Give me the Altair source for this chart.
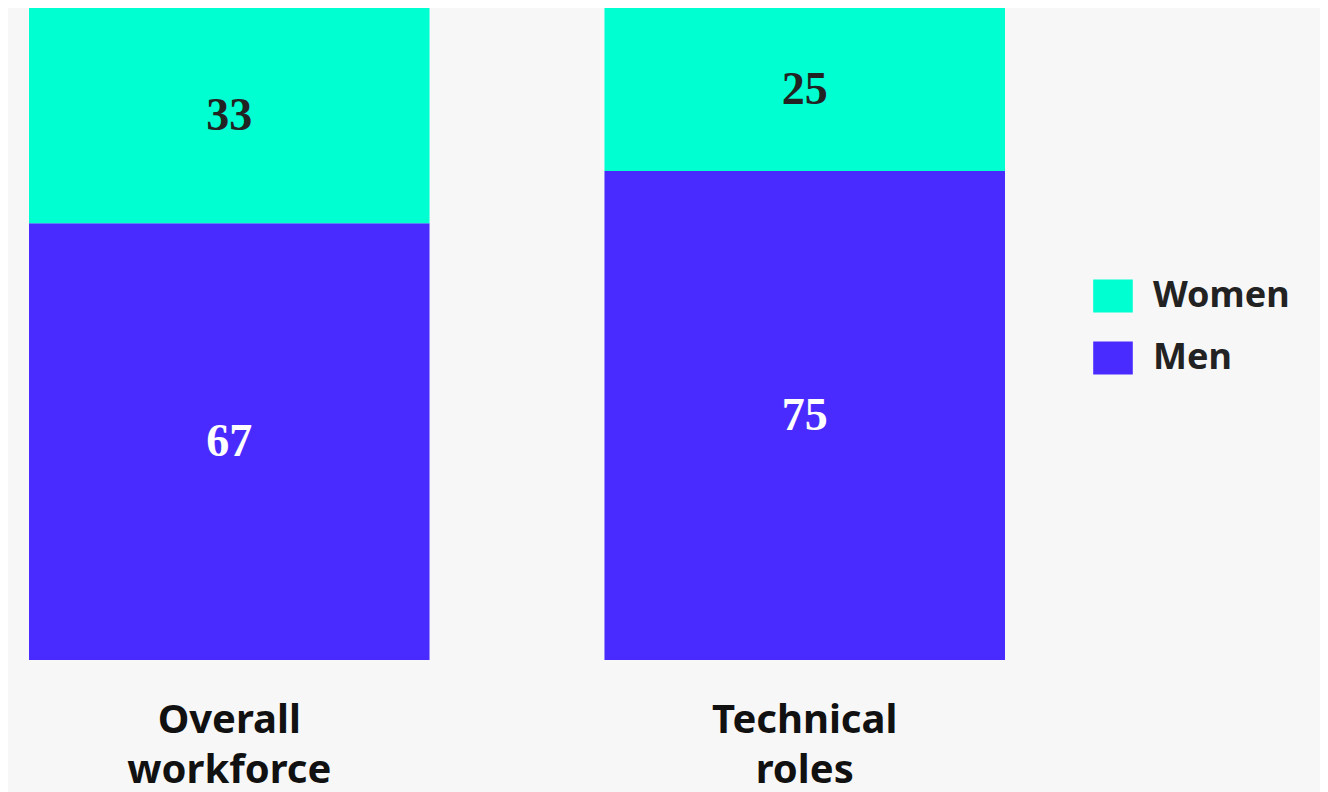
import altair as alt
import pandas as pd

categories = ["Overall workforce", "Technical roles"]
men = [67, 75]
women = [33, 25]
genders = ["Women", "Men"]
colors = ["#00FFD1", "#4A2BFF"]

rows = []
for c, m, w in zip(categories, men, women):
    rows.append({"category": c, "gender": "Men", "value": m, "order": 0})
    rows.append({"category": c, "gender": "Women", "value": w, "order": 1})
df = pd.DataFrame(rows)

base = alt.Chart(df).transform_stack(
    stack="value", groupby=["category"], sort=[alt.SortField("order")], as_=["y0", "y1"]
).transform_calculate(mid="(datum.y0 + datum.y1) / 2")

xenc = alt.X("category:N", sort=categories, title=None,
             scale=alt.Scale(paddingInner=0.304, paddingOuter=0),
             axis=alt.Axis(labelAngle=0, domain=False, ticks=False, labelFont="Noto Sans",
                           labelFontSize=40, labelFontWeight="bold", labelColor="#111111",
                           labelExpr="split(datum.label, ' ')", labelLineHeight=50,
                           labelPadding=40, labelBaseline="top", labelLimit=0))

bars = base.mark_bar().encode(
    x=xenc,
    y=alt.Y("y0:Q", scale=alt.Scale(domain=[0, 100]), axis=None),
    y2="y1:Q",
    color=alt.Color("gender:N", scale=alt.Scale(domain=genders, range=colors),
                    legend=alt.Legend(title=None, orient="none", legendX=1066, legendY=270,
                                      labelFont="Noto Sans", labelFontSize=36,
                                      labelFontWeight="bold", labelColor="#222222",
                                      symbolType="M-1.2,-1H1.2V1H-1.2Z", symbolSize=1089,
                                      symbolStrokeWidth=0, symbolOpacity=1, labelOffset=22,
                                      rowPadding=26, padding=0)),
)

texts = base.mark_text(font="Liberation Serif", fontSize=46, fontWeight="bold",
                       baseline="middle", align="center").encode(
    x=alt.X("category:N", sort=categories),
    y=alt.Y("mid:Q"),
    text=alt.Text("value:Q"),
    color=alt.condition(alt.datum.gender == "Men", alt.value("#FFFFFF"), alt.value("#222222")),
)

chart = alt.layer(bars, texts).properties(
    width=976, height=652,
    background="#F7F7F7",
    autosize=alt.AutoSizeParams(type="none"),
    padding={"left": 21, "top": 0, "right": 315, "bottom": 132},
).configure_view(stroke=None)

chart.save("out.html", embed_options={"renderer": "svg", "actions": False})
